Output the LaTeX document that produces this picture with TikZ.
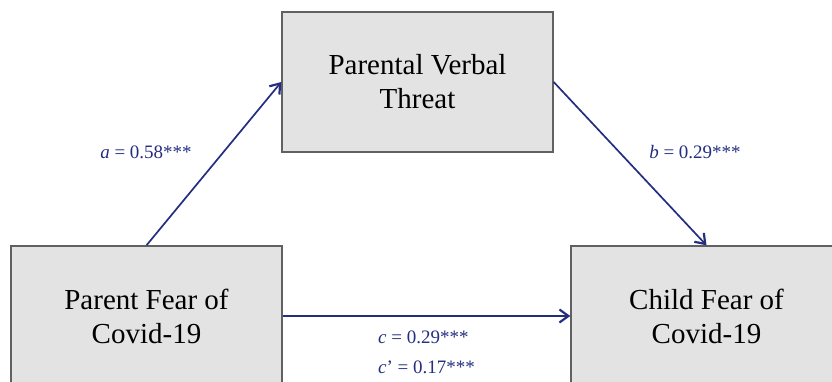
\documentclass[tikz,border=0pt]{standalone}
\usepackage{fontspec}
\setmainfont{Liberation Serif}
\usetikzlibrary{arrows.meta}
\definecolor{pathblue}{RGB}{36,46,128}
\definecolor{boxgray}{RGB}{227,227,227}
\tikzset{varbox/.style={draw=black!62, line width=1.4pt, fill=boxgray, minimum width=271pt, minimum height=140pt, inner sep=0pt, align=center, font=\fontsize{29}{34}\selectfont},
coef/.style={text=pathblue, inner sep=0pt, align=left, font=\fontsize{19}{30}\selectfont},
medarrow/.style={pathblue, line width=1.7pt, -{Straight Barb[length=9pt,width=13pt,line width=2.2pt]}}}
\begin{document}
\begin{tikzpicture}[x=1pt,y=1pt]
\useasboundingbox (0,0) rectangle (832,-381);
\clip (0,0) rectangle (832,-381);
\node[varbox] (med) at (417.5,-82) {Parental Verbal\\Threat};
\node[varbox] (xvar) at (146.5,-316) {Parent Fear of\\Covid-19};
\node[varbox] (yvar) at (706.5,-316) {Child Fear of\\Covid-19};
\draw[medarrow] (xvar.north) -- (med.west);
\draw[medarrow] (med.east) -- (yvar.north);
\draw[medarrow] (xvar.east) -- (yvar.west);
\node[coef] (alab) at (146,-152) {\textit{a} = 0.58***};
\node[coef] (blab) at (695,-152) {\textit{b} = 0.29***};
\node[coef, anchor=north west] (clab) at (378,-331) {\textit{c} = 0.29***\\\textit{c}’ = 0.17***};
\end{tikzpicture}
\end{document}
